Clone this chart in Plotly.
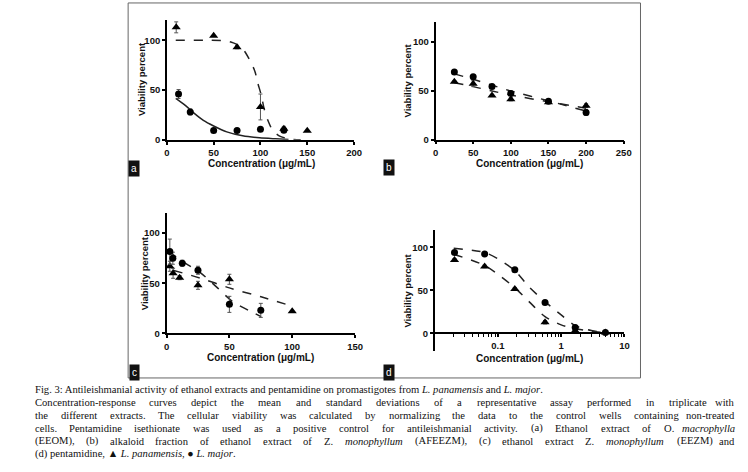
import plotly.graph_objects as go

W, H = 748, 472

# ---- values ----
# (a) ethanol extract of O. macrophylla
a_tri_x = [10, 50, 75, 100, 125, 150]
a_tri_y = [113, 104.5, 93, 33, 11, 9]
a_tri_sd = [5.5, 0, 1.5, 13, 2.5, 0]
a_cir_x = [12.5, 25, 50, 75, 100, 125]
a_cir_y = [46, 28, 9.3, 9.3, 10.6, 9.6]
a_cir_sd = [4.5, 3, 0, 0, 0, 1.5]
a_fit_tri_x = [9.5, 40, 64, 71, 78, 83, 88, 94, 97, 101, 104, 108, 113, 120, 130, 143]
a_fit_tri_y = [100, 100, 99.3, 97.4, 94, 89, 81, 69, 57.6, 44.4, 31, 19.5, 9.6, 4, 1, 0]
a_fit_cir_x = [9.5, 20, 29, 39, 50, 64, 81, 99, 116, 130]
a_fit_cir_y = [41.7, 34.4, 26.8, 19.5, 13.9, 8, 4, 2, 1, 0.3]

# (b) alkaloid fraction of ethanol extract of Z. monophyllum
b_x = [25, 50, 75, 100, 150, 200]
b_cir_y = [69, 64, 54, 47, 39, 27.6]
b_cir_sd = [1, 1.5, 2, 2, 2, 3]
b_tri_y = [59, 57, 45, 41, 38, 34.5]
b_tri_sd = [1, 3, 1, 1.5, 1, 2]
b_fit_cir_y = [67, 61.5, 55.5, 49.5, 39.5, 29]
b_fit_tri_y = [58, 54, 49.5, 45.5, 38.5, 32]

# (c) ethanol extract of Z. monophyllum
c_cir_x = [2.6, 5, 12.5, 25, 50, 75]
c_cir_y = [81.6, 75, 70, 63, 29, 23]
c_cir_sd = [12.5, 6, 3, 4, 8, 7]
c_tri_x = [2.6, 5.2, 10.4, 25, 50, 100]
c_tri_y = [67, 60, 55.6, 48, 54, 22]
c_tri_sd = [5, 5, 2, 4, 5, 1]
c_fit_cir_x = [1.8, 12.3, 26.6, 39.7, 52.7, 65.8, 75.2]
c_fit_cir_y = [82, 72, 60.9, 46.4, 31.6, 22.7, 16.8]
c_fit_tri_x = [5.7, 26.6, 50, 75.2, 99.7]
c_fit_tri_y = [62.8, 55.3, 45.4, 36.5, 27.3]

# (d) pentamidine
d_x = [0.0206, 0.0617, 0.185, 0.556, 1.667, 5]
d_cir_y = [94, 92.3, 74, 36, 7, 1]
d_tri_y = [85.4, 77.8, 51.7, 13, 3, 1]
d_sd = [1.5, 1.5, 1.5, 2, 1.5, 1]
d_fit_x = [0.02, 0.0617, 0.1, 0.185, 0.31, 0.556, 1, 1.667, 3, 5]
d_fit_cir_y = [99, 94, 86.6, 73, 54, 37, 21.5, 9, 3.4, 1]
d_fit_tri_y = [92, 79, 68.6, 53, 37, 19.5, 10, 5.7, 2.5, 1]

caption = [
    "Fig. 3: Antileishmanial activity of ethanol extracts and pentamidine on promastigotes from <i>L. panamensis</i> and <i>L. major</i>.",
    "Concentration-response curves depict the mean and standard deviations of a representative assay performed in triplicate with",
    "the different extracts. The cellular viability was calculated by normalizing the data to the control wells containing non-treated",
    "cells. Pentamidine isethionate was used as a positive control for antileishmanial activity. (a) Ethanol extract of O. <i>macrophylla</i>",
    "(EEOM), (b) alkaloid fraction of ethanol extract of Z. <i>monophyllum</i> (AFEEZM), (c) ethanol extract Z. <i>monophyllum</i> (EEZM) and",
    "(d) pentamidine, ▲ <i>L. panamensis</i>, ● <i>L. major</i>.",
]


def px(x):
    return x / W


def py(y):
    return 1 - y / H


SANS = "Liberation Sans"
ERR = dict(type="data", color="#555", thickness=1, width=2)

fig = go.Figure()


def add_points(x, y, sd, symbol, xa, ya, size=7):
    fig.add_trace(go.Scatter(
        x=x, y=y, mode="markers", xaxis=xa, yaxis=ya, cliponaxis=False,
        marker=dict(symbol=symbol, size=size, color="black"),
        error_y=dict(array=sd, **ERR),
    ))


def add_fit(x, y, xa, ya, dash="dash"):
    fig.add_trace(go.Scatter(
        x=x, y=y, mode="lines", xaxis=xa, yaxis=ya,
        line=dict(color="#222", width=1.5, dash=dash, shape="spline", smoothing=0.8),
    ))


def label(x, y, text, font, xanchor="center", **kw):
    fig.add_annotation(x=px(x), y=py(y), xref="paper", yref="paper", text=text,
                       xanchor=xanchor, yanchor="middle", showarrow=False,
                       font=font, **kw)


# panel a
add_fit(a_fit_tri_x, a_fit_tri_y, "x", "y", "dash")
add_fit(a_fit_cir_x, a_fit_cir_y, "x", "y", "solid")
add_points(a_tri_x, a_tri_y, a_tri_sd, "triangle-up", "x", "y", 8)
add_points(a_cir_x, a_cir_y, a_cir_sd, "circle", "x", "y")
# panel b
add_fit(b_x, b_fit_cir_y, "x2", "y2")
add_fit(b_x, b_fit_tri_y, "x2", "y2")
add_points(b_x, b_tri_y, b_tri_sd, "triangle-up", "x2", "y2", 8)
add_points(b_x, b_cir_y, b_cir_sd, "circle", "x2", "y2")
# panel c
add_fit(c_fit_cir_x, c_fit_cir_y, "x3", "y3")
add_fit(c_fit_tri_x, c_fit_tri_y, "x3", "y3")
add_points(c_tri_x, c_tri_y, c_tri_sd, "triangle-up", "x3", "y3", 8)
add_points(c_cir_x, c_cir_y, c_cir_sd, "circle", "x3", "y3")
# panel d
add_fit(d_fit_x, d_fit_cir_y, "x4", "y4")
add_fit(d_fit_x, d_fit_tri_y, "x4", "y4")
add_points(d_x, d_tri_y, d_sd, "triangle-up", "x4", "y4", 8)
add_points(d_x, d_cir_y, d_sd, "circle", "x4", "y4")


def axis(domain, rng, **kw):
    base = dict(
        domain=domain, range=rng, showline=True, linecolor="black", linewidth=1.5,
        ticks="outside", ticklen=3, tickwidth=1.5, tickcolor="black",
        showgrid=False, zeroline=False, fixedrange=True,
        tickfont=dict(family=SANS, size=9.5, color="#111", weight="bold"),
    )
    base.update(kw)
    return base


fig.update_layout(
    width=W, height=H, margin=dict(l=0, r=0, t=0, b=0),
    paper_bgcolor="white", plot_bgcolor="white", showlegend=False,
    xaxis=axis([px(166.3), px(356.3)], [0, 200], anchor="y", dtick=50, tick0=0),
    yaxis=axis([py(141.3), py(20.6)], [0, 120], anchor="x", tickvals=[0, 50, 100]),
    xaxis2=axis([px(439), px(630)], [0, 250], anchor="y2", dtick=50, tick0=0),
    yaxis2=axis([py(141), py(22.2)], [0, 120], anchor="x2", tickvals=[0, 50, 100]),
    xaxis3=axis([px(166), px(357.3)], [0, 150], anchor="y3", dtick=50, tick0=0),
    yaxis3=axis([py(337), py(215.4)], [0, 120], anchor="x3", tickvals=[0, 50, 100]),
    xaxis4=axis([px(438.1), px(630.7)], [-2, 1], type="log", anchor="free",
                position=py(337), tickvals=[0.1, 1, 10], ticktext=["0.1", "1", "10"],
                minor=dict(ticks="outside", ticklen=2.5, tickwidth=1, tickcolor="black",
                           dtick="D1", showgrid=False)),
    yaxis4=axis([py(354.4), py(232.6)], [-20, 120], anchor="x4", tickvals=[0, 50, 100]),
)

# outer frame of the figure
fig.add_shape(type="rect", xref="paper", yref="paper",
              x0=px(127), x1=px(647), y0=py(382), y1=py(3),
              line=dict(color="#666", width=1))

# axis titles
YT = dict(family=SANS, size=9.5, color="#111", weight="bold")
XT = dict(family=SANS, size=10, color="#111", weight="bold")
for cx, cy in [(140, 80), (410.7, 81.7), (143.3, 276), (410.7, 294)]:
    label(cx, cy, "Viability percent", YT, textangle=-90)
for cx, cy in [(262, 165), (534, 165.7), (261.7, 361.7), (534.3, 362.3)]:
    label(cx, cy, "Concentration (μg/mL)", XT)

# panel letters
for letter, cx, cy in [("a", 133, 170), ("b", 392, 169), ("c", 133, 376), ("d", 392, 376)]:
    label(cx, cy, letter, dict(family=SANS, size=10, color="white"),
          bgcolor="#111", borderpad=2)

# caption: justified lines are laid out word by word with rough Times widths
CAP = dict(family="Liberation Serif", size=10.6, color="#111")
X0, X1 = 30, 745
CHAR_W = {}
for chars, w in [("ijlt:;", .278), ("fr()-I", .333), ("s", .389), ("acez", .444),
                 ("bdghknopquvxy0123456789", .5), ("FPS", .556), ("ELTZ", .611),
                 ("BCR", .667), ("ADGHKNOUVXYw", .722), ("m", .778), ("M", .889),
                 ("W", .944), (".,", .25), ("▲●", .8)]:
    for ch in chars:
        CHAR_W[ch] = w


def word_w(word):
    plain = word.replace("<i>", "").replace("</i>", "")
    return sum(CHAR_W.get(ch, .5) for ch in plain) * CAP["size"]


def justified(line, y):
    words = line.split(" ")
    widths = [word_w(w) for w in words]
    gap = (X1 - X0 - sum(widths)) / (len(words) - 1)
    x = X0
    for i, (w, ww) in enumerate(zip(words, widths)):
        last = i == len(words) - 1
        label(X1 if last else x, y, w, CAP, xanchor="right" if last else "left")
        x += ww + gap


cap_y = [394, 407, 420, 433, 446, 459]
for i, (line, y) in enumerate(zip(caption, cap_y)):
    if i in (0, len(caption) - 1):
        label(X0, y, line, CAP, xanchor="left")
    else:
        justified(line, y)

# the page body has a default 8px margin; drop it so the figure fills the window
fig.write_html("out.html", config={"displayModeBar": False},
               post_script="document.body.style.margin='0';")
